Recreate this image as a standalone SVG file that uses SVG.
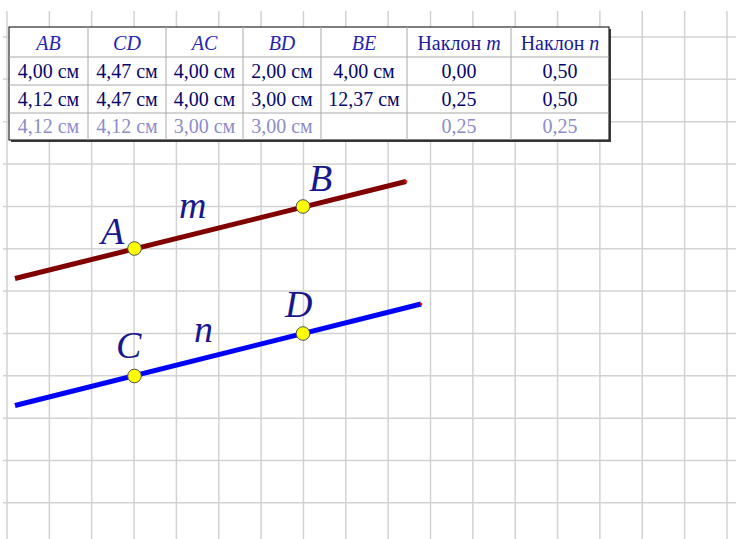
<svg xmlns="http://www.w3.org/2000/svg" width="736" height="539" viewBox="0 0 736 539">
<style>
.g{stroke:#d2d2d2;stroke-width:1.5}
.tl{stroke:#a8a8a8;stroke-width:1}
.t{font-family:"Liberation Serif","Times New Roman",serif;font-size:20px;text-anchor:middle}
.h{fill:#2424b4;font-style:italic}
.hs{fill:#1a1a9a}
.d{fill:#06066a}
.f{fill:#8c8cc8}
.lbl{font-family:"Liberation Serif","Times New Roman",serif;font-style:italic;font-size:38px;fill:#18188e}
.pt{fill:#ffff00;stroke:#505050;stroke-width:1}
</style>
<rect width="736" height="539" fill="#ffffff"/>
<g id="grid">
<line class="g" x1="7" y1="11" x2="7" y2="539"/>
<line class="g" x1="49.35" y1="11" x2="49.35" y2="539"/>
<line class="g" x1="91.7" y1="11" x2="91.7" y2="539"/>
<line class="g" x1="134.05" y1="11" x2="134.05" y2="539"/>
<line class="g" x1="176.4" y1="11" x2="176.4" y2="539"/>
<line class="g" x1="218.75" y1="11" x2="218.75" y2="539"/>
<line class="g" x1="261.1" y1="11" x2="261.1" y2="539"/>
<line class="g" x1="303.45" y1="11" x2="303.45" y2="539"/>
<line class="g" x1="345.8" y1="11" x2="345.8" y2="539"/>
<line class="g" x1="388.15" y1="11" x2="388.15" y2="539"/>
<line class="g" x1="430.5" y1="11" x2="430.5" y2="539"/>
<line class="g" x1="472.85" y1="11" x2="472.85" y2="539"/>
<line class="g" x1="515.2" y1="11" x2="515.2" y2="539"/>
<line class="g" x1="557.55" y1="11" x2="557.55" y2="539"/>
<line class="g" x1="599.9" y1="11" x2="599.9" y2="539"/>
<line class="g" x1="642.25" y1="11" x2="642.25" y2="539"/>
<line class="g" x1="684.6" y1="11" x2="684.6" y2="539"/>
<line class="g" x1="726.95" y1="11" x2="726.95" y2="539"/>
<line class="g" x1="3" y1="37" x2="736" y2="37"/>
<line class="g" x1="3" y1="79.35" x2="736" y2="79.35"/>
<line class="g" x1="3" y1="121.7" x2="736" y2="121.7"/>
<line class="g" x1="3" y1="164.05" x2="736" y2="164.05"/>
<line class="g" x1="3" y1="206.4" x2="736" y2="206.4"/>
<line class="g" x1="3" y1="248.75" x2="736" y2="248.75"/>
<line class="g" x1="3" y1="291.1" x2="736" y2="291.1"/>
<line class="g" x1="3" y1="333.45" x2="736" y2="333.45"/>
<line class="g" x1="3" y1="375.8" x2="736" y2="375.8"/>
<line class="g" x1="3" y1="418.15" x2="736" y2="418.15"/>
<line class="g" x1="3" y1="460.5" x2="736" y2="460.5"/>
<line class="g" x1="3" y1="502.85" x2="736" y2="502.85"/>
</g>
<g id="table">
<rect x="11" y="29" width="600" height="113" fill="#3a3a3a"/>
<rect x="9" y="27" width="600" height="113" fill="#ffffff" stroke="#2a2a2a" stroke-width="1.2"/>
<line class="tl" x1="9" y1="57" x2="609" y2="57"/>
<line class="tl" x1="9" y1="85" x2="609" y2="85"/>
<line class="tl" x1="9" y1="113" x2="609" y2="113"/>
<line class="tl" x1="88" y1="27" x2="88" y2="140"/>
<line class="tl" x1="166" y1="27" x2="166" y2="140"/>
<line class="tl" x1="243" y1="27" x2="243" y2="140"/>
<line class="tl" x1="321" y1="27" x2="321" y2="140"/>
<line class="tl" x1="407" y1="27" x2="407" y2="140"/>
<line class="tl" x1="511" y1="27" x2="511" y2="140"/>
<text class="t h" x="48.5" y="50">AB</text>
<text class="t h" x="127" y="50">CD</text>
<text class="t h" x="204.5" y="50">AC</text>
<text class="t h" x="282" y="50">BD</text>
<text class="t h" x="364" y="50">BE</text>
<text class="t hs" x="459" y="50">Наклон <tspan font-style="italic">m</tspan></text>
<text class="t hs" x="560" y="50">Наклон <tspan font-style="italic">n</tspan></text>
<text class="t d" x="48.5" y="78">4,00 см</text>
<text class="t d" x="127" y="78">4,47 см</text>
<text class="t d" x="204.5" y="78">4,00 см</text>
<text class="t d" x="282" y="78">2,00 см</text>
<text class="t d" x="364" y="78">4,00 см</text>
<text class="t d" x="459" y="78">0,00</text>
<text class="t d" x="560" y="78">0,50</text>
<text class="t d" x="48.5" y="106">4,12 см</text>
<text class="t d" x="127" y="106">4,47 см</text>
<text class="t d" x="204.5" y="106">4,00 см</text>
<text class="t d" x="282" y="106">3,00 см</text>
<text class="t d" x="364" y="106">12,37 см</text>
<text class="t d" x="459" y="106">0,25</text>
<text class="t d" x="560" y="106">0,50</text>
<text class="t f" x="48.5" y="133">4,12 см</text>
<text class="t f" x="127" y="133">4,12 см</text>
<text class="t f" x="204.5" y="133">3,00 см</text>
<text class="t f" x="282" y="133">3,00 см</text>
<text class="t f" x="459" y="133">0,25</text>
<text class="t f" x="560" y="133">0,25</text>
</g>
<g id="connectors">
<line id="line-m" x1="15" y1="278.5" x2="406" y2="181.5" stroke="#800000" stroke-width="5"/>
<line id="line-n" x1="15" y1="405.5" x2="421" y2="304" stroke="#0000ff" stroke-width="5"/>
<circle cx="406" cy="181.5" r="1.3" fill="#ff0000"/>
<circle cx="421" cy="304" r="1.3" fill="#ff0000"/>
</g>
<g id="node-A"><circle class="pt" cx="134.5" cy="248.5" r="6.8"/><text class="lbl" x="101" y="244">A</text></g>
<g id="node-B"><circle class="pt" cx="303" cy="206.5" r="6.8"/><text class="lbl" x="309" y="191">B</text></g>
<g id="node-C"><circle class="pt" cx="134.5" cy="376" r="6.8"/><text class="lbl" x="116" y="358">C</text></g>
<g id="node-D"><circle class="pt" cx="303" cy="333.5" r="6.8"/><text class="lbl" x="285" y="317">D</text></g>
<g id="labels">
<text class="lbl" x="179" y="218">m</text>
<text class="lbl" x="194" y="342">n</text>
</g>
</svg>
